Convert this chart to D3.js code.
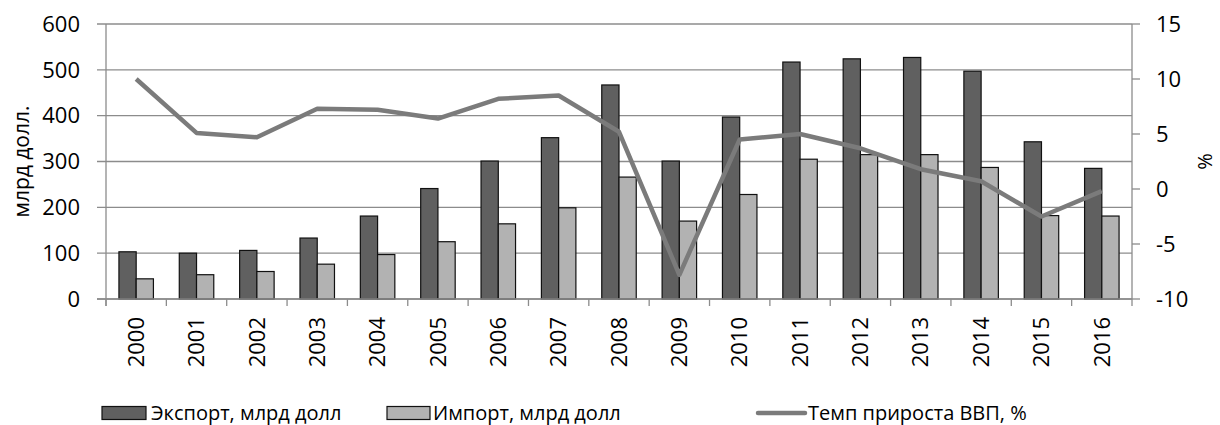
<!DOCTYPE html>
<html>
<head>
<meta charset="utf-8">
<script src="https://cdn.jsdelivr.net/npm/d3@7"></script>
<style>
  body { margin: 0; background: #fff; }
  svg text { font-family: "Open Sans", sans-serif; fill: #000; }
</style>
</head>
<body>
<div id="chart"></div>
<script>
const YEARS = ["2000", "2001", "2002", "2003", "2004", "2005", "2006", "2007", "2008",
  "2009", "2010", "2011", "2012", "2013", "2014", "2015", "2016"];
const EXPORT = [103, 100, 106, 133, 181, 241, 301, 352, 467, 301, 397, 517, 524, 527, 497, 343, 285];
const IMPORT = [44, 53, 60, 76, 97, 125, 164, 199, 266, 170, 228, 305, 315, 315, 287, 182, 181];
const GDP = [10.0, 5.1, 4.7, 7.3, 7.2, 6.4, 8.2, 8.5, 5.2, -7.8, 4.5, 5.0, 3.7, 1.8, 0.7, -2.5, -0.2];
const LEFT_TICKS = [0, 100, 200, 300, 400, 500, 600];
const RIGHT_TICKS = [-10, -5, 0, 5, 10, 15];
const LEGEND_LABELS = ["Экспорт, млрд долл", "Импорт, млрд долл", "Темп прироста ВВП, %"];

const PLOT = { LEFT: 106, RIGHT: 1132, TOP: 24, BOTTOM: 299 };
const GRID_COLOR = "#8c8c8c";
const FONT_SIZE = "22px";

const SVG = d3.select("#chart").append("svg")
  .attr("width", 1220)
  .attr("height", 425);

const X_SCALE = d3.scaleBand()
  .domain(YEARS)
  .range([PLOT.LEFT, PLOT.RIGHT])
  .paddingInner(0)
  .paddingOuter(0);

// two bars per year, gap width ~150%
const BAR_W = X_SCALE.bandwidth() / 3.5;

const Y_LEFT = d3.scaleLinear().domain([0, 600]).range([PLOT.BOTTOM, PLOT.TOP]);
const Y_RIGHT = d3.scaleLinear().domain([-10, 15]).range([PLOT.BOTTOM, PLOT.TOP]);

// gridlines
SVG.append("g")
  .selectAll("line")
  .data(LEFT_TICKS)
  .join("line")
  .attr("x1", PLOT.LEFT - 9)
  .attr("x2", PLOT.RIGHT)
  .attr("y1", (d) => Y_LEFT(d))
  .attr("y2", (d) => Y_LEFT(d))
  .attr("stroke", GRID_COLOR)
  .attr("stroke-width", 1.3);

// left axis line
SVG.append("line")
  .attr("x1", PLOT.LEFT).attr("x2", PLOT.LEFT)
  .attr("y1", PLOT.TOP).attr("y2", PLOT.BOTTOM + 7)
  .attr("stroke", GRID_COLOR).attr("stroke-width", 1.3);

// x axis (category boundary ticks)
SVG.append("g")
  .selectAll("line")
  .data(YEARS.concat(["end"]))
  .join("line")
  .attr("x1", (d, i) => PLOT.LEFT + i * X_SCALE.step())
  .attr("x2", (d, i) => PLOT.LEFT + i * X_SCALE.step())
  .attr("y1", PLOT.BOTTOM)
  .attr("y2", PLOT.BOTTOM + 7)
  .attr("stroke", GRID_COLOR)
  .attr("stroke-width", 1.3);

// right axis
SVG.append("line")
  .attr("x1", PLOT.RIGHT).attr("x2", PLOT.RIGHT)
  .attr("y1", PLOT.TOP).attr("y2", PLOT.BOTTOM)
  .attr("stroke", GRID_COLOR).attr("stroke-width", 1.3);

SVG.append("g")
  .selectAll("line")
  .data(RIGHT_TICKS)
  .join("line")
  .attr("x1", PLOT.RIGHT)
  .attr("x2", PLOT.RIGHT + 8)
  .attr("y1", (d) => Y_RIGHT(d))
  .attr("y2", (d) => Y_RIGHT(d))
  .attr("stroke", GRID_COLOR)
  .attr("stroke-width", 1.3);

// tick labels
SVG.append("g")
  .selectAll("text")
  .data(LEFT_TICKS)
  .join("text")
  .attr("x", 80)
  .attr("y", (d) => Y_LEFT(d))
  .attr("dy", "0.35em")
  .attr("text-anchor", "end")
  .style("font-size", FONT_SIZE)
  .text((d) => d);

SVG.append("g")
  .selectAll("text")
  .data(RIGHT_TICKS)
  .join("text")
  .attr("x", 1156)
  .attr("y", (d) => Y_RIGHT(d))
  .attr("dy", "0.35em")
  .style("font-size", FONT_SIZE)
  .text((d) => d);

SVG.append("g")
  .selectAll("text")
  .data(YEARS)
  .join("text")
  .attr("transform", (d) => "translate(" + (X_SCALE(d) + X_SCALE.bandwidth() / 2) + ",317) rotate(-90)")
  .attr("dy", "0.35em")
  .attr("text-anchor", "end")
  .style("font-size", FONT_SIZE)
  .text((d) => d);

// axis titles
SVG.append("text")
  .attr("transform", "translate(22," + (PLOT.TOP + PLOT.BOTTOM) / 2 + ") rotate(-90)")
  .attr("dy", "0.35em")
  .attr("text-anchor", "middle")
  .style("font-size", "21px")
  .text("млрд долл.");

SVG.append("text")
  .attr("transform", "translate(1205," + (PLOT.TOP + PLOT.BOTTOM) / 2 + ") rotate(-90)")
  .attr("dy", "0.35em")
  .attr("text-anchor", "middle")
  .style("font-size", "20px")
  .text("%");

// bars
const BARS = SVG.append("g");
BARS.selectAll(".export")
  .data(EXPORT)
  .join("rect")
  .attr("class", "export")
  .attr("x", (d, i) => X_SCALE(YEARS[i]) + X_SCALE.bandwidth() / 2 - BAR_W)
  .attr("y", (d) => Y_LEFT(d))
  .attr("width", BAR_W)
  .attr("height", (d) => Y_LEFT(0) - Y_LEFT(d))
  .attr("fill", "#606060")
  .attr("stroke", "#111")
  .attr("stroke-width", 1.2);

BARS.selectAll(".import")
  .data(IMPORT)
  .join("rect")
  .attr("class", "import")
  .attr("x", (d, i) => X_SCALE(YEARS[i]) + X_SCALE.bandwidth() / 2)
  .attr("y", (d) => Y_LEFT(d))
  .attr("width", BAR_W)
  .attr("height", (d) => Y_LEFT(0) - Y_LEFT(d))
  .attr("fill", "#b2b2b2")
  .attr("stroke", "#111")
  .attr("stroke-width", 1.2);

// bottom axis line over the bars
SVG.append("line")
  .attr("x1", PLOT.LEFT - 9).attr("x2", PLOT.RIGHT)
  .attr("y1", PLOT.BOTTOM).attr("y2", PLOT.BOTTOM)
  .attr("stroke", GRID_COLOR).attr("stroke-width", 1.3);

// GDP line
const LINE = d3.line()
  .x((d, i) => X_SCALE(YEARS[i]) + X_SCALE.bandwidth() / 2)
  .y((d) => Y_RIGHT(d));

SVG.append("path")
  .datum(GDP)
  .attr("d", LINE)
  .attr("fill", "none")
  .attr("stroke", "#7b7b7b")
  .attr("stroke-width", 4.5)
  .attr("stroke-linejoin", "round");

// legend
const LEGEND = SVG.append("g").attr("id", "legend");
const LEGEND_Y = 413;

LEGEND.append("rect")
  .attr("x", 102).attr("y", LEGEND_Y - 6.5)
  .attr("width", 44).attr("height", 13)
  .attr("fill", "#606060").attr("stroke", "#111").attr("stroke-width", 1.2);
LEGEND.append("text")
  .attr("x", 151).attr("y", LEGEND_Y).attr("dy", "0.35em")
  .style("font-size", "20px")
  .text(LEGEND_LABELS[0]);

LEGEND.append("rect")
  .attr("x", 387).attr("y", LEGEND_Y - 6.5)
  .attr("width", 43).attr("height", 13)
  .attr("fill", "#b2b2b2").attr("stroke", "#111").attr("stroke-width", 1.2);
LEGEND.append("text")
  .attr("x", 433).attr("y", LEGEND_Y).attr("dy", "0.35em")
  .style("font-size", "20px")
  .text(LEGEND_LABELS[1]);

LEGEND.append("line")
  .attr("x1", 758).attr("x2", 805)
  .attr("y1", LEGEND_Y).attr("y2", LEGEND_Y)
  .attr("stroke", "#7b7b7b").attr("stroke-width", 4.5)
  .attr("stroke-linecap", "round");
LEGEND.append("text")
  .attr("x", 808).attr("y", LEGEND_Y).attr("dy", "0.35em")
  .style("font-size", "20px")
  .text(LEGEND_LABELS[2]);
</script>
</body>
</html>
